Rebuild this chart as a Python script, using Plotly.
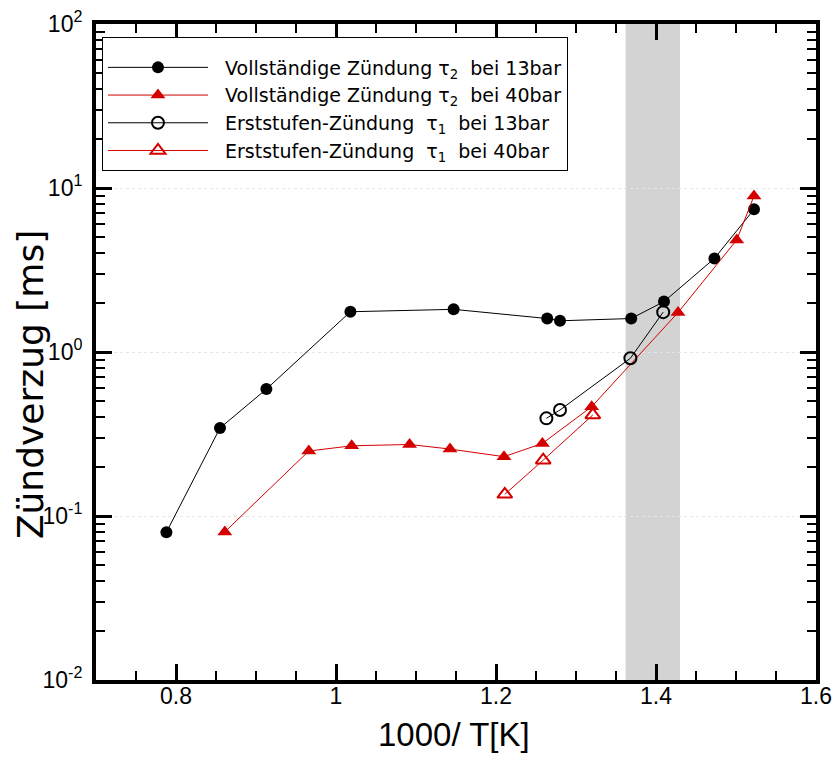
import plotly.graph_objects as go

# ---- data ----
x_tau2_13 = [0.788, 0.855, 0.913, 1.018, 1.147, 1.264, 1.280, 1.369, 1.410, 1.473, 1.5225]
y_tau2_13 = [0.0796, 0.344, 0.594, 1.76, 1.82, 1.60, 1.55, 1.60, 2.03, 3.72, 7.41]

x_tau2_40 = [0.861, 0.966, 1.0196, 1.092, 1.1425, 1.210, 1.258, 1.3196, 1.4275, 1.5009, 1.5225]
y_tau2_40 = [0.080, 0.249, 0.268, 0.273, 0.256, 0.230, 0.277, 0.464, 1.74, 4.82, 8.94]

x_tau1_13 = [1.263, 1.280, 1.368, 1.409]
y_tau1_13 = [0.394, 0.443, 0.916, 1.75]

x_tau1_40 = [1.211, 1.259, 1.321]
y_tau1_40 = [0.1356, 0.219, 0.413]

band_x = [1.362, 1.430]

NB = "\u00a0"
names = [
    NB * 2 + "Vollständige Zündung τ<sub>2</sub>" + NB + " bei 13bar",
    NB * 2 + "Vollständige Zündung τ<sub>2</sub>" + NB + " bei 40bar",
    NB * 2 + "Erststufen-Zündung" + NB + " τ<sub>1</sub>" + NB + " bei 13bar",
    NB * 2 + "Erststufen-Zündung" + NB + " τ<sub>1</sub>" + NB + " bei 40bar",
]

y_tickvals = [0.01, 0.1, 1, 10, 100]
y_ticktext = ["10<sup>-2</sup>", "10<sup>-1</sup>", "10<sup>0</sup>", "10<sup>1</sup>", "10<sup>2</sup>"]
x_tickvals = [0.8, 1.0, 1.2, 1.4, 1.6]
x_ticktext = ["0.8", "1", "1.2", "1.4", "1.6"]

RED = "#d40000"
FONT = "Liberation Sans, Arial, sans-serif"
WIDE = "DejaVu Sans, sans-serif"

fig = go.Figure()

fig.add_trace(go.Scatter(x=x_tau2_13, y=y_tau2_13, mode="lines+markers", name=names[0],
                         line=dict(color="black", width=1),
                         marker=dict(symbol="circle", size=12, color="black")))
fig.add_trace(go.Scatter(x=x_tau2_40, y=y_tau2_40, mode="lines+markers", name=names[1],
                         line=dict(color=RED, width=1),
                         marker=dict(symbol="triangle-up", size=13, color=RED)))
fig.add_trace(go.Scatter(x=x_tau1_13, y=y_tau1_13, mode="lines+markers", name=names[2],
                         line=dict(color="black", width=1),
                         marker=dict(symbol="circle-open", size=12, color="black", line=dict(width=2))))
fig.add_trace(go.Scatter(x=x_tau1_40, y=y_tau1_40, mode="lines+markers", name=names[3],
                         line=dict(color=RED, width=1),
                         marker=dict(symbol="triangle-up-open", size=13, color=RED, line=dict(width=2))))

fig.add_shape(type="rect", xref="x", yref="paper", x0=band_x[0], x1=band_x[1], y0=0, y1=1,
              fillcolor="#d3d3d3", line=dict(width=0), layer="below")

fig.add_annotation(text="Zündverzug [ms]", xref="paper", yref="paper", x=-0.0917, y=0.451,
                   xanchor="center", yanchor="middle", textangle=-90, showarrow=False,
                   font=dict(family=WIDE, size=36, color="black"))
fig.add_annotation(text="1000/ T[K]", xref="paper", yref="paper", x=0.497, y=-0.0838,
                   xanchor="center", yanchor="middle", showarrow=False,
                   font=dict(family=FONT, size=33, color="black"))

fig.update_layout(
    width=833, height=763,
    margin=dict(l=96, r=17, t=24, b=83, autoexpand=False),
    paper_bgcolor="white", plot_bgcolor="white",
    font=dict(family=FONT, color="black"),
    showlegend=True,
    legend=dict(x=0.0083, y=0.980, xanchor="left", yanchor="top",
                bgcolor="white", bordercolor="black", borderwidth=1,
                font=dict(family=WIDE, size=19, color="black"),
                title=dict(text=" ", font=dict(size=8)),
                itemwidth=100, tracegroupgap=0),
    xaxis=dict(range=[0.7, 1.6], tickvals=x_tickvals, ticktext=x_ticktext,
               automargin=False,
               ticks="inside", ticklen=16, tickwidth=3, tickcolor="black",
               showline=True, linewidth=4, linecolor="black", mirror="allticks",
               showgrid=False, zeroline=False,
               tickfont=dict(family=FONT, size=23, color="black"),
               ticklabelstandoff=-8,
               minor=dict(dtick=0.05, ticks="inside", ticklen=9, tickwidth=1.5,
                          tickcolor="black", showgrid=False)),
    yaxis=dict(type="log", range=[-2, 2], tickvals=y_tickvals, ticktext=y_ticktext,
               automargin=False,
               ticks="inside", ticklen=16, tickwidth=3, tickcolor="black",
               showline=True, linewidth=4, linecolor="black", mirror="allticks",
               showgrid=True, gridcolor="#e4e4e4", griddash="dot", gridwidth=1,
               zeroline=False,
               tickfont=dict(family=FONT, size=23, color="black"),
               ticklabelstandoff=5,
               minor=dict(dtick="D1", ticks="inside", ticklen=9, tickwidth=1.5,
                          tickcolor="black", showgrid=False)),
)

fig.write_html("out.html")
